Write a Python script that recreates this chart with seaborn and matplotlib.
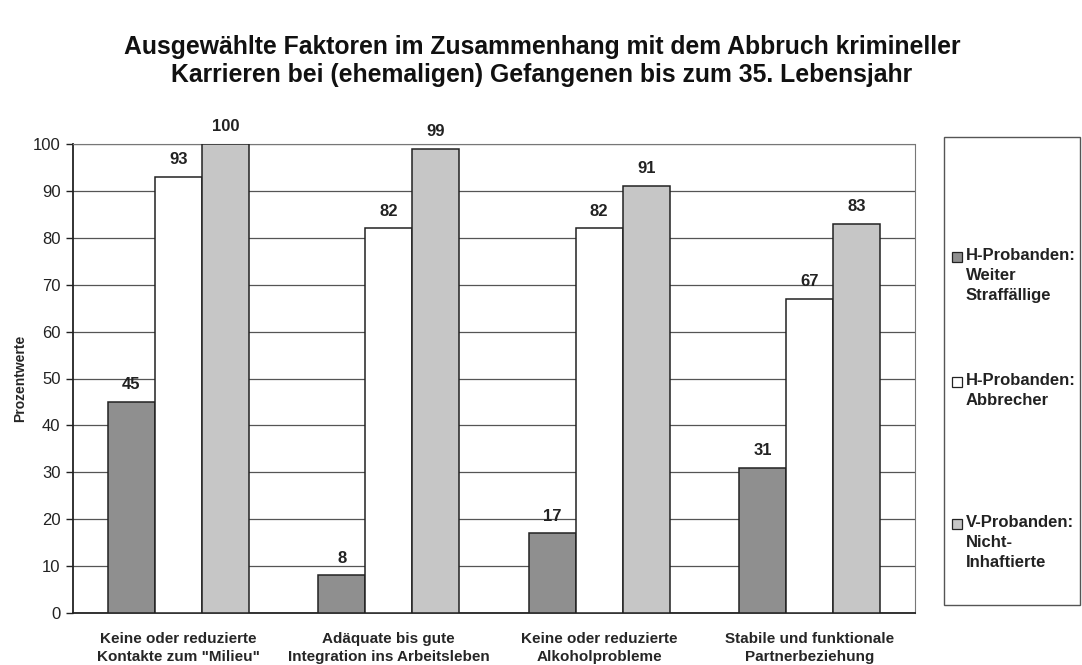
import pandas as pd
import numpy as np
import matplotlib
matplotlib.use("Agg")
import matplotlib.pyplot as plt
import seaborn as sns
from matplotlib.patches import Rectangle

# data
categories = [
    'Keine oder reduzierte\nKontakte zum "Milieu"',
    "Adäquate bis gute\nIntegration ins Arbeitsleben",
    "Keine oder reduzierte\nAlkoholprobleme",
    "Stabile und funktionale\nPartnerbeziehung",
]
groups = [
    "H-Probanden:\nWeiter\nStraffällige",
    "H-Probanden:\nAbbrecher",
    "V-Probanden:\nNicht-\nInhaftierte",
]
weiter_straffaellige = [45, 8, 17, 31]
abbrecher = [93, 82, 82, 67]
nicht_inhaftierte = [100, 99, 91, 83]
colors = ["#8f8f8f", "#ffffff", "#c6c6c6"]

df = pd.DataFrame({
    "Kategorie": categories * 3,
    "Gruppe": [g for g in groups for _ in categories],
    "Wert": weiter_straffaellige + abbrecher + nicht_inhaftierte,
})

sns.set_style("white")
plt.rcParams["font.family"] = ["Liberation Sans", "DejaVu Sans"]

W, H = 1082, 665
fig = plt.figure(figsize=(W / 100, H / 100), dpi=100)
ax = fig.add_axes([73 / W, 1 - 613 / H, (915 - 73) / W, (613 - 144) / H])

sns.barplot(
    data=df, x="Kategorie", y="Wert", hue="Gruppe",
    order=categories, hue_order=groups, palette=colors,
    width=0.67, edgecolor="#222222", linewidth=1.1,
    legend=False, ax=ax, zorder=3,
)

# value labels
for cont in ax.containers:
    ax.bar_label(cont, padding=7, fontsize=12, fontweight="bold", color="#222222")

ax.set_ylim(0, 100)
ax.set_yticks(range(0, 101, 10))
ax.tick_params(axis="y", labelsize=12, length=5, width=1, colors="#222222",
               direction="out", pad=4, left=True)
ax.tick_params(axis="x", labelsize=11, length=0, pad=14)
for lbl in ax.get_xticklabels():
    lbl.set_fontweight("bold")
    lbl.set_linespacing(1.3)
ax.set_xlabel("")
ax.set_ylabel("Prozentwerte", fontsize=10, fontweight="bold", labelpad=4)

# grid + frame
ax.yaxis.grid(True, color="#555555", linewidth=0.9, zorder=0)
ax.set_axisbelow(True)
for side in ["top", "right"]:
    ax.spines[side].set_linestyle((0, (1, 1)))
    ax.spines[side].set_color("#777777")
for side in ["left", "bottom"]:
    ax.spines[side].set_color("#222222")
    ax.spines[side].set_linewidth(1.3)

fig.text(
    0.5 * (120 + 964) / W, 1 - 61 / H,
    "Ausgewählte Faktoren im Zusammenhang mit dem Abbruch krimineller\n"
    "Karrieren bei (ehemaligen) Gefangenen bis zum 35. Lebensjahr",
    ha="center", va="center", fontsize=17.8, fontweight="bold",
    color="#111111", linespacing=1.2,
)

# legend box, drawn by hand so the marker sits on the first text line
fig.patches.append(Rectangle(
    (944 / W, 1 - 605 / H), (1080 - 944) / W, (605 - 137) / H,
    transform=fig.transFigure, facecolor="white", edgecolor="#555555", linewidth=1.0,
))
legend_top = [257, 382, 524]
for grp, col, ytop in zip(groups, colors, legend_top):
    fig.patches.append(Rectangle(
        (952 / W, 1 - (ytop + 5) / H), 10 / W, 10 / H,
        transform=fig.transFigure, facecolor=col, edgecolor="#222222", linewidth=0.9,
    ))
    fig.text(966 / W, 1 - (ytop - 9) / H, grp, ha="left", va="top",
             fontsize=12, fontweight="bold", color="#222222", linespacing=1.42)

fig.savefig("out.png", dpi=100)
